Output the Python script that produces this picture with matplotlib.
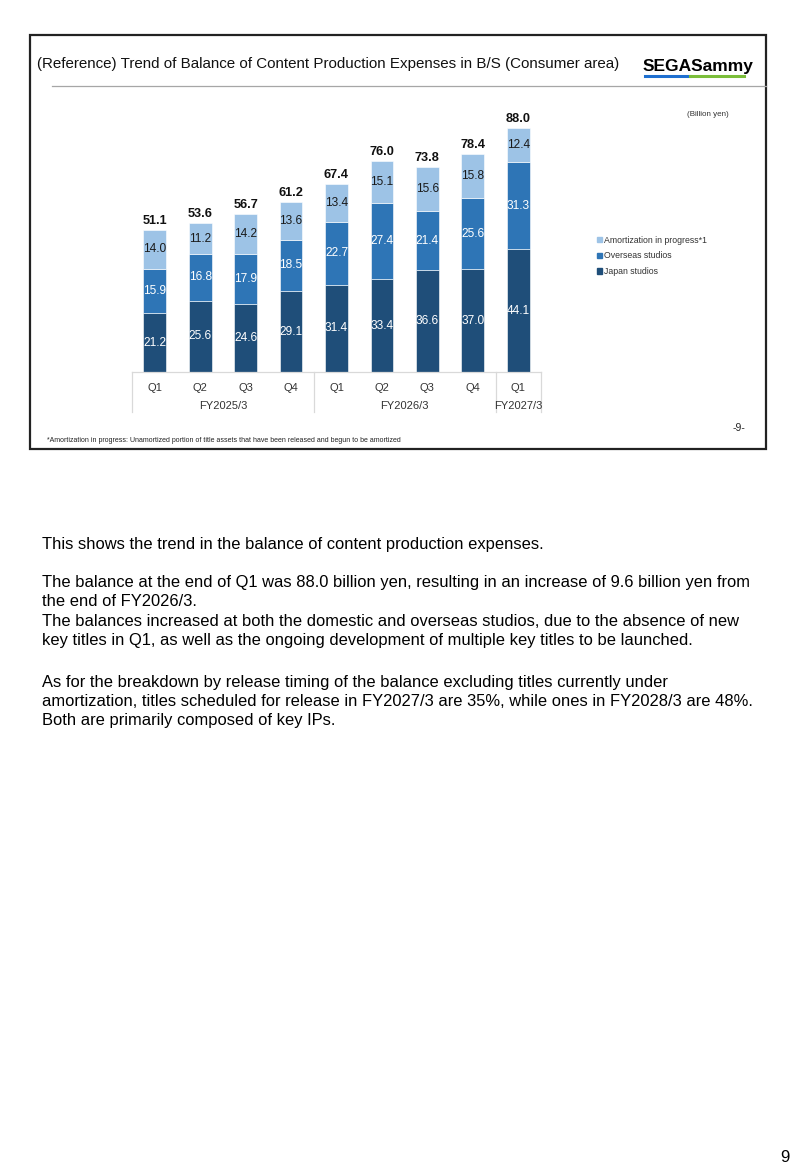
import matplotlib
matplotlib.use("Agg")
import matplotlib.pyplot as plt
from matplotlib.patches import Rectangle, Patch
from matplotlib.lines import Line2D
import matplotlib.transforms as mtransforms
import numpy as np

plt.rcParams['font.family'] = ['Liberation Sans', 'DejaVu Sans']

# datos (miles de millones de yenes)
quarters = ['Q1', 'Q2', 'Q3', 'Q4', 'Q1', 'Q2', 'Q3', 'Q4', 'Q1']
japan = [21.2, 25.6, 24.6, 29.1, 31.4, 33.4, 36.6, 37.0, 44.1]
overseas = [15.9, 16.8, 17.9, 18.5, 22.7, 27.4, 21.4, 25.6, 31.3]
amort = [14.0, 11.2, 14.2, 13.6, 13.4, 15.1, 15.6, 15.8, 12.4]
totals = [51.1, 53.6, 56.7, 61.2, 67.4, 76.0, 73.8, 78.4, 88.0]
fiscal_years = ['FY2025/3', 'FY2026/3', 'FY2027/3']
fy_counts = [4, 4, 1]
series_names = ['Japan studios', 'Overseas studios', 'Amortization in progress*1']

colors = ['#1F4E79', '#2E75B6', '#9DC3E6']
text_colors = ['white', 'white', '#1a1a1a']

W, H = 800, 1171
fig = plt.figure(figsize=(W/100, H/100), dpi=100)

def fx(x):
    return x / W

def fy(y):
    return 1 - y / H

# marco de la diapositiva
fig.patches.append(Rectangle((fx(30), fy(449)), fx(766) - fx(30), fy(35) - fy(449),
                             transform=fig.transFigure, fill=False, edgecolor='#222222', linewidth=1.6))
fig.add_artist(Line2D([fx(52), fx(766)], [fy(86), fy(86)], color='#A6A6A6', linewidth=0.9))

fig.text(fx(37), fy(64), '(Reference) Trend of Balance of Content Production Expenses in B/S (Consumer area)',
         fontsize=10.9, va='center', ha='left', color='#111111')

# logo
fig.text(fx(643), fy(67), 'SEGASammy', fontsize=12.5, fontweight='bold', va='center', ha='left', color='black')
fig.add_artist(Line2D([fx(645), fx(690)], [fy(75.5), fy(75.5)], color='#1E6FD0', linewidth=2.2))
fig.add_artist(Line2D([fx(690), fx(744)], [fy(75.5), fy(75.5)], color='#7BBE3A', linewidth=2.2))

# eje del grafico
ymax = 95
ax_bottom = 372
px_per_unit = 2.78
ax_top = ax_bottom - ymax * px_per_unit
ax = fig.add_axes([fx(132), fy(ax_bottom), fx(541) - fx(132), fy(ax_top) - fy(ax_bottom)])

x = np.arange(len(quarters))
bottom = np.zeros(len(quarters))
for vals, col, tcol, name in zip([japan, overseas, amort], colors, text_colors, series_names):
    vals = np.array(vals)
    ax.bar(x, vals, 0.5, bottom=bottom, color=col, edgecolor='white', linewidth=0.4, label=name)
    for xi, v, b in zip(x, vals, bottom):
        ax.text(xi, b + v / 2, '%.1f' % v, ha='center', va='center', fontsize=8.6, color=tcol)
    bottom = bottom + vals

for xi, t, b in zip(x, totals, bottom):
    ax.text(xi, b + 1.2, '%.1f' % t, ha='center', va='bottom', fontsize=9.2, fontweight='bold', color='#111111')

ax.set_xlim(-0.5, len(quarters) - 0.5)
ax.set_ylim(0, ymax)
ax.set_yticks([])
ax.set_xticks(x)
ax.set_xticklabels(quarters, fontsize=8, color='#333333')
ax.tick_params(axis='x', length=0, pad=8)
for s in ['left', 'right', 'top']:
    ax.spines[s].set_visible(False)
ax.spines['bottom'].set_color('#D9D9D9')
ax.spines['bottom'].set_linewidth(0.9)

# tabla de categorias (lineas y anos fiscales)
trans = mtransforms.blended_transform_factory(ax.transData, ax.transAxes)
depth = 40 / (ax_bottom - ax_top)
edges = np.concatenate([[0], np.cumsum(fy_counts)]) - 0.5
for e in edges:
    ax.plot([e, e], [0, -depth], color='#D9D9D9', linewidth=0.9, transform=trans, clip_on=False)
fy_y = -34 / (ax_bottom - ax_top)
for name, a, b in zip(fiscal_years, edges[:-1], edges[1:]):
    ax.text((a + b) / 2, fy_y, name, ha='center', va='center', fontsize=8, color='#333333',
            transform=trans, clip_on=False)

handles = [Patch(color=c) for c in colors][::-1]
labels = series_names[::-1]
fig.legend(handles, labels, loc='upper left', bbox_to_anchor=(fx(589), fy(228)), frameon=False,
           fontsize=6.3, handlelength=0.55, handleheight=0.55, handletextpad=0.3, labelspacing=0.75,
           labelcolor='#333333')

fig.text(fx(729), fy(114), '(Billion yen)', fontsize=5.8, ha='right', va='center', color='#333333')
fig.text(fx(745), fy(428), '-9-', fontsize=7.5, ha='right', va='center', color='#222222')
fig.text(fx(47), fy(441), '*Amortization in progress: Unamortized portion of title assets that have been released and begun to be amortized',
         fontsize=5.0, ha='left', va='center', color='#222222')

# notas
notes = [
    (545, 'This shows the trend in the balance of content production expenses.'),
    (582, 'The balance at the end of Q1 was 88.0 billion yen, resulting in an increase of 9.6 billion yen from'),
    (601, 'the end of FY2026/3.'),
    (622, 'The balances increased at both the domestic and overseas studios, due to the absence of new'),
    (641, 'key titles in Q1, as well as the ongoing development of multiple key titles to be launched.'),
    (682, 'As for the breakdown by release timing of the balance excluding titles currently under'),
    (701, 'amortization, titles scheduled for release in FY2027/3 are 35%, while ones in FY2028/3 are 48%.'),
    (720, 'Both are primarily composed of key IPs.'),
]
for yy, line in notes:
    fig.text(fx(42), fy(yy), line, fontsize=11.9, ha='left', va='center', color='black')

fig.text(fx(790), fy(1157), '9', fontsize=12, ha='right', va='center', color='black')

fig.savefig('out.png', dpi=100)
